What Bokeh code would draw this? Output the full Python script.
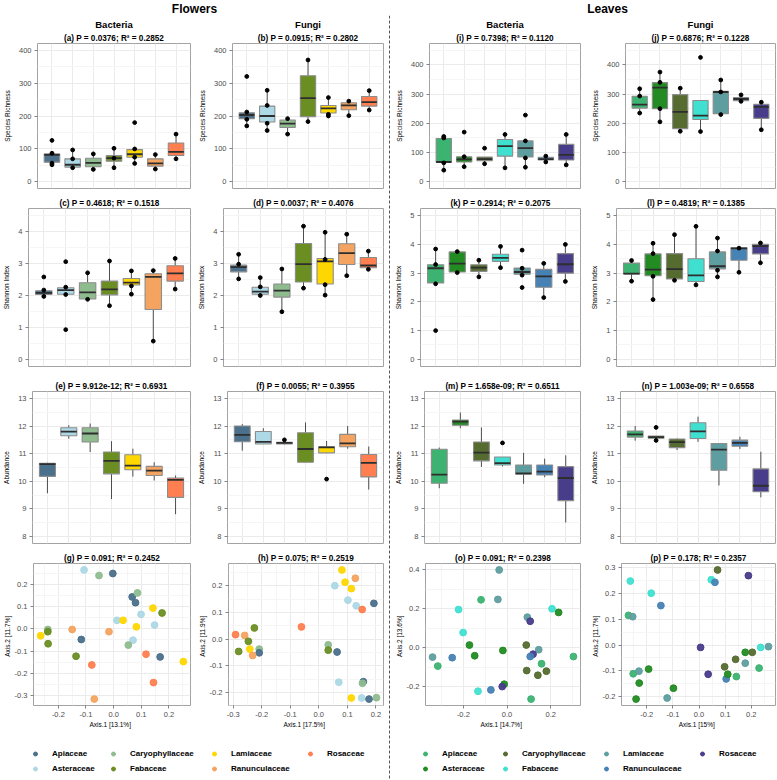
import numpy as np
from bokeh.plotting import figure
from bokeh.models import (FactorRange, Range1d, FixedTicker, Title, Span, Label,
                          Legend, LegendItem, ColumnDataSource, PrintfTickFormatter)
from bokeh.layouts import row, column
from bokeh.transform import dodge, factor_cmap
from bokeh.embed import file_html
from bokeh.resources import INLINE

FONT = "Liberation Sans"

FAMS = ["Apiaceae", "Asteraceae", "Caryophyllaceae", "Fabaceae",
        "Lamiaceae", "Ranunculaceae", "Rosaceae"]
FL_COLORS = ["#4A708B", "#ADD8E6", "#8FBC8F", "#6B8E23", "#FFD700", "#F4A460", "#FF7F50"]
LV_COLORS = ["#3CB371", "#228B22", "#556B2F", "#40E0D0", "#5F9EA0", "#4682B4", "#483D8B"]

# ---- axis limits / ticks
RICH_FL_LIM = (-20, 420)
RICH_LV_LIM = (-22.5, 472.5)
RICH_TICKS = [0, 100, 200, 300, 400]
SH_FL_LIM = (-0.225, 4.725)
SH_FL_TICKS = [0, 1, 2, 3, 4]
SH_LV_LIM = (-0.25, 5.25)
SH_LV_TICKS = [0, 1, 2, 3, 4, 5]
AB_LIM = (7.75, 13.25)
AB_TICKS = [8, 9, 10, 11, 12, 13]

# ---- box stats per family: [lower whisker, Q1, median, Q3, upper whisker]
a_box = [[52, 60, 82, 85, 87], [43, 45, 52, 70, 97], [38, 46, 58, 72, 85], [43, 63, 72, 80, 102],
         [56, 75, 84, 98, 100], [39, 48, 56, 70, 83], [70, 80, 91, 118, 145]]
a_pts = [[126, 87, 57, 52], [97, 70, 43], [85, 38], [102, 72, 43], [180, 100, 75, 56], [83, 39], [145, 70]]
b_box = [[170, 192, 203, 210, 212], [156, 182, 200, 230, 278], [145, 165, 177, 188, 192], [183, 198, 254, 322, 370],
         [200, 209, 223, 232, 256], [201, 219, 232, 240, 245], [218, 230, 242, 259, 277]]
b_pts = [[320, 212, 190, 170], [278, 232, 178, 156], [192, 145], [370, 183], [256, 205, 200], [245, 201], [277, 218]]
i_box = [[40, 67, 68, 148, 155], [52, 68, 77, 86, 86], [62, 72, 78, 85, 85], [48, 88, 122, 145, 162],
         [50, 85, 115, 140, 140], [68, 75, 78, 84, 88], [58, 75, 92, 128, 162]]
i_pts = [[155, 150, 65, 40], [170, 86, 52], [115, 62], [162, 48], [228, 140, 82, 50], [88, 68], [162, 58]]
j_box = [[235, 252, 264, 292, 318], [205, 250, 322, 339, 375], [173, 182, 239, 298, 320], [172, 213, 226, 278, 278],
         [230, 233, 307, 309, 348], [275, 277, 283, 288, 297], [178, 217, 256, 265, 272]]
j_pts = [[318, 293, 235], [375, 340, 250, 205], [320, 173], [425, 172], [348, 307, 230], [297, 275], [272, 178]]

c_box = [[1.97, 2.03, 2.08, 2.15, 2.17], [2.03, 2.04, 2.17, 2.24, 2.26], [1.88, 1.89, 2.10, 2.40, 2.71],
         [1.68, 2.02, 2.19, 2.45, 3.08], [2.04, 2.33, 2.40, 2.53, 2.77], [0.57, 1.56, 2.58, 2.68, 2.78],
         [2.20, 2.45, 2.69, 2.93, 3.16]]
c_pts = [[2.58, 2.17, 1.97], [3.06, 2.26, 2.03, 0.93], [2.71, 1.88], [3.08, 1.68], [2.77, 2.30, 2.04], [2.78, 0.57], [3.16, 2.20]]
d_box = [[2.52, 2.74, 2.89, 2.95, 3.29], [2.00, 2.04, 2.12, 2.26, 2.56], [1.49, 1.95, 2.15, 2.36, 2.83],
         [2.23, 2.42, 2.98, 3.63, 4.17], [2.01, 2.36, 3.07, 3.16, 3.98], [2.62, 2.97, 3.33, 3.62, 3.92],
         [2.82, 2.87, 2.94, 3.19, 3.39]]
d_pts = [[3.29, 2.98, 2.52], [2.56, 2.27, 2.00], [2.83, 1.49], [4.17, 2.23], [3.98, 3.13, 2.34, 2.01], [3.92, 2.62], [3.39, 2.82]]
k_box = [[2.63, 2.66, 3.17, 3.29, 3.84], [3.02, 3.04, 3.33, 3.74, 3.75], [2.87, 3.06, 3.19, 3.29, 3.45],
         [3.19, 3.41, 3.53, 3.66, 3.93], [2.93, 2.96, 3.04, 3.18, 3.18], [2.15, 2.51, 2.89, 3.13, 3.34],
         [2.71, 3.00, 3.31, 3.68, 4.00]]
k_pts = [[3.84, 3.30, 2.63, 1.00], [3.75, 3.02], [3.45, 2.87], [3.93, 3.19], [3.80, 3.17, 2.93, 2.50], [3.34, 2.15], [4.00, 2.71]]
l_box = [[2.72, 2.97, 2.98, 3.35, 3.44], [2.08, 2.91, 3.12, 3.67, 4.04], [2.75, 2.80, 3.14, 3.68, 4.34],
         [2.59, 2.71, 2.92, 3.50, 4.63], [2.87, 3.15, 3.24, 3.74, 4.22], [3.03, 3.45, 3.86, 3.88, 3.88],
         [3.36, 3.67, 3.94, 4.00, 4.05]]
l_pts = [[3.44, 2.72], [4.04, 3.68, 2.89, 2.08], [4.34, 2.75], [4.63, 2.59], [4.22, 3.77, 3.10, 2.87], [3.87, 3.03], [4.05, 3.36]]

e_box = [[9.57, 10.18, 10.62, 10.65, 10.67], [11.54, 11.65, 11.80, 11.94, 12.03], [11.06, 11.42, 11.73, 11.94, 12.09],
         [9.36, 10.27, 10.74, 11.06, 11.45], [10.17, 10.42, 10.57, 10.96, 11.18], [10.03, 10.21, 10.39, 10.54, 10.69],
         [8.81, 9.42, 10.05, 10.12, 10.21]]
e_pts = [[], [], [], [], [], [], []]
f_box = [[11.11, 11.43, 11.68, 12.00, 12.07], [11.35, 11.35, 11.43, 11.80, 11.92], [11.34, 11.35, 11.39, 11.41, 11.42],
         [10.69, 10.69, 11.17, 11.76, 12.13], [11.03, 11.03, 11.23, 11.25, 11.46], [11.18, 11.25, 11.37, 11.70, 12.00],
         [9.70, 10.16, 10.67, 10.97, 11.26]]
f_pts = [[], [], [11.50], [], [10.08], [], []]
m_box = [[9.75, 9.93, 10.24, 11.16, 11.22], [11.92, 12.03, 12.16, 12.22, 12.49], [10.52, 10.74, 11.04, 11.42, 11.95],
         [10.54, 10.59, 10.66, 10.88, 10.88], [9.91, 10.26, 10.29, 10.59, 11.03], [10.15, 10.23, 10.35, 10.59, 10.82],
         [8.51, 9.30, 10.12, 10.53, 10.94]]
m_pts = [[], [], [], [11.39], [], [], []]
n_box = [[11.47, 11.60, 11.70, 11.82, 12.00], [11.56, 11.56, 11.60, 11.64, 11.64], [11.13, 11.22, 11.42, 11.53, 11.55],
         [11.43, 11.55, 11.81, 12.12, 12.34], [9.85, 10.40, 11.15, 11.37, 11.37], [11.17, 11.27, 11.39, 11.49, 11.61],
         [9.42, 9.62, 9.84, 10.45, 11.07]]
n_pts = [[], [11.95, 11.48], [], [], [], [], []]

# ---- PCoA coordinates
g_fam = ["Asteraceae", "Caryophyllaceae", "Apiaceae", "Apiaceae", "Caryophyllaceae", "Apiaceae", "Lamiaceae",
         "Fabaceae", "Asteraceae", "Asteraceae", "Lamiaceae", "Lamiaceae", "Asteraceae", "Caryophyllaceae",
         "Fabaceae", "Lamiaceae", "Ranunculaceae", "Ranunculaceae", "Apiaceae", "Fabaceae", "Asteraceae",
         "Caryophyllaceae", "Rosaceae", "Apiaceae", "Fabaceae", "Rosaceae", "Lamiaceae", "Rosaceae", "Ranunculaceae"]
g_x = [-0.107, -0.053, -0.003, 0.067, 0.086, 0.079, 0.142, 0.175, 0.099, 0.012, 0.034, 0.082, 0.148, -0.238,
       -0.238, -0.264, -0.150, -0.017, -0.117, -0.237, 0.070, 0.053, 0.117, 0.168, -0.136, -0.079, 0.252, 0.144, -0.070]
g_y = [0.264, 0.239, 0.248, 0.143, 0.161, 0.117, 0.093, 0.071, 0.065, 0.038, 0.038, 0.009, 0.017, -0.003,
       -0.013, -0.031, -0.003, -0.013, -0.048, -0.067, -0.051, -0.073, -0.114, -0.126, -0.123, -0.162, -0.147, -0.241, -0.315]

h_fam = ["Lamiaceae", "Ranunculaceae", "Lamiaceae", "Asteraceae", "Lamiaceae", "Asteraceae", "Asteraceae",
         "Rosaceae", "Apiaceae", "Rosaceae", "Rosaceae", "Ranunculaceae", "Fabaceae", "Fabaceae", "Fabaceae",
         "Lamiaceae", "Caryophyllaceae", "Apiaceae", "Ranunculaceae", "Caryophyllaceae", "Fabaceae", "Apiaceae",
         "Asteraceae", "Apiaceae", "Caryophyllaceae", "Lamiaceae", "Asteraceae", "Apiaceae", "Caryophyllaceae"]
h_x = [0.081, 0.128, 0.092, 0.056, 0.114, 0.102, 0.131, 0.152, 0.193, -0.061, -0.292, -0.260, -0.226, -0.247,
       -0.281, -0.242, -0.209, -0.209, -0.232, 0.033, 0.033, 0.064, 0.070, 0.156, 0.153, 0.114, 0.150, 0.176, 0.202]
h_y = [0.259, 0.228, 0.213, 0.200, 0.189, 0.146, 0.125, 0.111, 0.134, 0.046, 0.017, 0.014, 0.042, -0.008,
       -0.046, -0.037, -0.037, -0.051, -0.061, -0.021, -0.041, -0.048, -0.161, -0.159, -0.165, -0.220, -0.220, -0.224, -0.219]

o_fam = ["Lamiaceae", "Lamiaceae", "Apiaceae", "Fabaceae", "Fabaceae", "Asteraceae", "Lamiaceae", "Rosaceae",
         "Fabaceae", "Asteraceae", "Caryophyllaceae", "Asteraceae", "Asteraceae", "Lamiaceae", "Rosaceae",
         "Ranunculaceae", "Lamiaceae", "Apiaceae", "Ranunculaceae", "Apiaceae", "Apiaceae", "Caryophyllaceae",
         "Caryophyllaceae", "Caryophyllaceae", "Asteraceae", "Rosaceae", "Ranunculaceae", "Fabaceae", "Apiaceae"]
o_x = [-0.036, -0.042, -0.119, -0.222, 0.206, 0.236, 0.093, 0.106, -0.201, -0.172, 0.088, -0.148, -0.019, 0.145,
       0.119, 0.106, -0.341, -0.317, -0.251, 0.158, 0.304, 0.090, 0.141, 0.180, -0.013, -0.022, -0.074, -0.133, 0.110]
o_y = [0.400, 0.249, 0.247, 0.197, 0.201, 0.182, 0.158, 0.137, 0.079, 0.015, 0.015, -0.040, -0.013, -0.009,
       -0.032, -0.044, -0.047, -0.093, -0.050, -0.081, -0.044, -0.116, -0.140, -0.119, -0.186, -0.198, -0.215, -0.222, -0.262]

p_fam = ["Caryophyllaceae", "Rosaceae", "Fabaceae", "Ranunculaceae", "Fabaceae", "Fabaceae", "Ranunculaceae",
         "Apiaceae", "Lamiaceae", "Rosaceae", "Fabaceae", "Lamiaceae", "Asteraceae", "Caryophyllaceae",
         "Caryophyllaceae", "Caryophyllaceae", "Lamiaceae", "Apiaceae", "Rosaceae", "Ranunculaceae", "Asteraceae",
         "Apiaceae", "Asteraceae", "Apiaceae", "Lamiaceae", "Asteraceae", "Asteraceae", "Asteraceae", "Lamiaceae"]
p_x = [0.071, 0.189, 0.047, 0.061, -0.263, -0.183, -0.146, -0.270, -0.254, 0.006, 0.236, 0.266, 0.177, 0.204,
       0.140, 0.098, 0.177, 0.230, 0.035, 0.104, 0.110, 0.143, -0.193, -0.252, -0.230, -0.229, -0.098, -0.241, -0.122]
p_y = [0.291, 0.269, 0.253, 0.243, 0.248, 0.201, 0.153, 0.115, 0.110, -0.009, -0.009, -0.006, -0.028, -0.028,
       -0.055, -0.084, -0.070, -0.089, -0.113, -0.131, -0.113, -0.122, -0.093, -0.111, -0.101, -0.147, -0.167, -0.209, -0.205]

G_XT = [-0.2, -0.1, 0.0, 0.1, 0.2]
G_YT = [-0.3, -0.2, -0.1, 0.0, 0.1, 0.2]
H_XT = [-0.3, -0.2, -0.1, 0.0, 0.1, 0.2]
H_YT = [-0.2, -0.1, 0.0, 0.1, 0.2]
O_XT = [-0.2, 0.0, 0.2]
O_YT = [-0.2, 0.0, 0.2, 0.4]
P_XT = [-0.2, -0.1, 0.0, 0.1, 0.2]
P_YT = [-0.2, -0.1, 0.0, 0.1, 0.2, 0.3]

GRID = "#EBEBEB"
MINOR = "#F5F5F5"

# ---- layout sizes (px)
WA, WB, WSEP, WI, WJ = 195, 191, 6, 196, 188
H_HEAD, H1, H2, H3, H4, H_LEG = 15, 180, 179, 176, 180, 49


def minor_of(ticks):
    step = ticks[1] - ticks[0]
    return [ticks[0] - step / 2] + [t + step / 2 for t in ticks]


def style_title(t, size, standoff):
    t.text_font = FONT
    t.text_font_size = size
    t.text_font_style = "bold"
    t.text_color = "black"
    t.align = "center"
    t.standoff = standoff


def style_axis(ax, label, lab_standoff):
    ax.axis_label = label
    ax.axis_label_text_font = FONT
    ax.axis_label_text_font_size = "6.5px"
    ax.axis_label_text_font_style = "normal"
    ax.axis_label_text_color = "black"
    ax.axis_label_standoff = lab_standoff
    ax.major_label_text_font = FONT
    ax.major_label_text_font_size = "7.5px"
    ax.major_label_text_color = "#4D4D4D"
    ax.major_label_standoff = 2
    ax.major_tick_in = 0
    ax.major_tick_out = 3
    ax.major_tick_line_color = "#333333"
    ax.major_tick_line_width = 0.6
    ax.minor_tick_line_color = None
    ax.axis_line_color = None


def base_fig(width, height, xr, yr, title, header, top, bottom, right):
    p = figure(width=width, height=height, x_range=xr, y_range=yr,
               title=header if header else title, tools="", toolbar_location=None,
               output_backend="svg", min_border_left=0, min_border_right=right,
               min_border_top=top, min_border_bottom=bottom)
    if header:
        style_title(p.title, "9.5px", 3)
        t2 = Title(text=title)
        style_title(t2, "8.2px", 1)
        p.add_layout(t2, "above")
    else:
        style_title(p.title, "8.2px", 1)
    p.outline_line_color = "#A3A3A3"
    p.outline_line_width = 1
    p.xgrid.grid_line_color = GRID
    p.ygrid.grid_line_color = GRID
    p.ygrid.minor_grid_line_color = MINOR
    return p


def box_panel(width, height, box, pts, colors, title, ylab, lim, ticks,
              header=None, top=13, bottom=8, right=3):
    xr = FactorRange(factors=FAMS, range_padding=0.2, range_padding_units="absolute")
    p = base_fig(width, height, xr, Range1d(*lim), title, header, top, bottom, right)
    p.xaxis.visible = False
    p.yaxis.ticker = FixedTicker(ticks=ticks, minor_ticks=minor_of(ticks))
    style_axis(p.yaxis[0], ylab, 5)
    src = ColumnDataSource(dict(fam=FAMS, lo=[b[0] for b in box], q1=[b[1] for b in box],
                                med=[b[2] for b in box], q3=[b[3] for b in box],
                                hi=[b[4] for b in box], color=colors))
    p.segment(x0="fam", y0="lo", x1="fam", y1="q1", source=src, line_color="#4D4D4D", line_width=1)
    p.segment(x0="fam", y0="q3", x1="fam", y1="hi", source=src, line_color="#4D4D4D", line_width=1)
    p.vbar(x="fam", bottom="q1", top="q3", width=0.75, source=src, fill_color="color",
           line_color="#8C8C8C", line_width=1.1)
    p.segment(x0=dodge("fam", -0.375, range=xr), x1=dodge("fam", 0.375, range=xr),
              y0="med", y1="med", source=src, line_color="#2E2E2E", line_width=1.8)
    px = [f for f, vals in zip(FAMS, pts) for v in vals]
    py = [v for vals in pts for v in vals]
    if px:
        p.scatter(px, py, size=3.8, color="black")
    return p


def pad(vals):
    lo, hi = min(vals), max(vals)
    s = hi - lo
    return (lo - 0.05 * s, hi + 0.05 * s)


def pcoa_panel(width, height, fam, xs, ys, colors, title, xlab, ylab, xt, yt, right):
    p = base_fig(width, height, Range1d(*pad(xs)), Range1d(*pad(ys)), title, None, 13, 0, right)
    p.xgrid.minor_grid_line_color = MINOR
    p.xaxis.ticker = FixedTicker(ticks=xt, minor_ticks=minor_of(xt))
    p.yaxis.ticker = FixedTicker(ticks=yt, minor_ticks=minor_of(yt))
    p.xaxis.formatter = PrintfTickFormatter(format="%.1f")
    p.yaxis.formatter = PrintfTickFormatter(format="%.1f")
    style_axis(p.xaxis[0], xlab, 1)
    style_axis(p.yaxis[0], ylab, 1)
    src = ColumnDataSource(dict(x=xs, y=ys, fam=fam))
    cmap = factor_cmap("fam", colors, FAMS)
    p.scatter("x", "y", source=src, size=6.8, fill_color=cmap, line_color=cmap, fill_alpha=0.95)
    return p


def legend_fig(width, colors, xs):
    p = figure(width=width, height=H_LEG, x_range=Range1d(0, 1), y_range=Range1d(0, 1),
               tools="", toolbar_location=None, output_backend="svg", min_border=0,
               x_axis_location=None, y_axis_location=None)
    p.grid.visible = False
    p.outline_line_color = None
    nan = np.array([np.nan])
    rends = [p.scatter(x=nan, y=nan, size=7, color=c) for c in colors]
    groups = [(0, 1), (2, 3), (4, 5), (6,)]
    for grp, x0 in zip(groups, xs):
        items = [LegendItem(label=FAMS[k], renderers=[rends[k]]) for k in grp]
        y0 = 5 if len(grp) == 2 else 20
        leg = Legend(items=items, location=(x0, y0), orientation="vertical", spacing=4,
                     padding=0, margin=0, glyph_width=10, glyph_height=11, label_height=11,
                     label_standoff=12, label_text_font=FONT, label_text_font_size="8px",
                     label_text_font_style="bold", label_text_color="black",
                     border_line_color=None, background_fill_alpha=0)
        p.add_layout(leg)
    return p


# ---- panels
a = box_panel(WA, H1, a_box, a_pts, FL_COLORS, "(a) P = 0.0376; R² = 0.2852", "Species Richness",
              RICH_FL_LIM, RICH_TICKS, header="Bacteria", top=28, bottom=7, right=5)
b = box_panel(WB, H1, b_box, b_pts, FL_COLORS, "(b) P = 0.0915; R² = 0.2802", "Species Richness",
              RICH_FL_LIM, RICH_TICKS, header="Fungi", top=28, bottom=7, right=3)
pi = box_panel(WI, H1, i_box, i_pts, LV_COLORS, "(i) P = 0.7398; R² = 0.1120", "Species Richness",
               RICH_LV_LIM, RICH_TICKS, header="Bacteria", top=28, bottom=7, right=8)
pj = box_panel(WJ, H1, j_box, j_pts, LV_COLORS, "(j) P = 0.6876; R² = 0.1228", "Species Richness",
               RICH_LV_LIM, RICH_TICKS, header="Fungi", top=28, bottom=7, right=1)

c = box_panel(WA, H2, c_box, c_pts, FL_COLORS, "(c) P = 0.4618; R² = 0.1518", "Shannon Index",
              SH_FL_LIM, SH_FL_TICKS, top=13, bottom=8, right=5)
d = box_panel(WB, H2, d_box, d_pts, FL_COLORS, "(d) P = 0.0037; R² = 0.4076", "Shannon Index",
              SH_FL_LIM, SH_FL_TICKS, top=13, bottom=8, right=3)
pk = box_panel(WI, H2, k_box, k_pts, LV_COLORS, "(k) P = 0.2914; R² = 0.2075", "Shannon Index",
               SH_LV_LIM, SH_LV_TICKS, top=13, bottom=8, right=8)
pl = box_panel(WJ, H2, l_box, l_pts, LV_COLORS, "(l) P = 0.4819; R² = 0.1385", "Shannon Index",
               SH_LV_LIM, SH_LV_TICKS, top=13, bottom=8, right=1)

e = box_panel(WA, H3, e_box, e_pts, FL_COLORS, "(e) P = 9.912e-12; R² = 0.6931", "Abundance",
              AB_LIM, AB_TICKS, top=17, bottom=7, right=5)
f = box_panel(WB, H3, f_box, f_pts, FL_COLORS, "(f) P = 0.0055; R² = 0.3955", "Abundance",
              AB_LIM, AB_TICKS, top=17, bottom=7, right=3)
pm = box_panel(WI, H3, m_box, m_pts, LV_COLORS, "(m) P = 1.658e-09; R² = 0.6511", "Abundance",
               AB_LIM, AB_TICKS, top=17, bottom=7, right=8)
pn = box_panel(WJ, H3, n_box, n_pts, LV_COLORS, "(n) P = 1.003e-09; R² = 0.6558", "Abundance",
               AB_LIM, AB_TICKS, top=17, bottom=7, right=1)

g = pcoa_panel(WA, H4, g_fam, g_x, g_y, FL_COLORS, "(g) P = 0.091; R² = 0.2452",
               "Axis.1   [13.1%]", "Axis.2   [11.7%]", G_XT, G_YT, 5)
h = pcoa_panel(WB, H4, h_fam, h_x, h_y, FL_COLORS, "(h) P = 0.075; R² = 0.2519",
               "Axis.1   [17.5%]", "Axis.2   [11.9%]", H_XT, H_YT, 3)
po = pcoa_panel(WI, H4, o_fam, o_x, o_y, LV_COLORS, "(o) P = 0.091; R² = 0.2398",
                "Axis.1   [14.7%]", "Axis.2   [13.6%]", O_XT, O_YT, 8)
pp = pcoa_panel(WJ, H4, p_fam, p_x, p_y, LV_COLORS, "(p) P = 0.178; R² = 0.2357",
                "Axis.1   [15%]", "Axis.2   [11.7%]", P_XT, P_YT, 1)

leg_l = legend_fig(WA + WB, FL_COLORS, [30, 108, 209, 305])
leg_r = legend_fig(WI + WJ, LV_COLORS, [28, 108, 209, 305])

# ---- separator
H_BODY = H1 + H2 + H3 + H4 + H_LEG
sep = figure(width=WSEP, height=H_BODY, x_range=Range1d(0, 1), y_range=Range1d(0, 1), tools="",
             toolbar_location=None, output_backend="svg", min_border=0,
             x_axis_location=None, y_axis_location=None)
sep.grid.visible = False
sep.outline_line_color = None
sep.add_layout(Span(location=0.5, dimension="height", line_color="#555555",
                    line_dash="3 2", line_width=1))

# ---- header
W_ALL = WA + WB + WSEP + WI + WJ
head = figure(width=W_ALL, height=H_HEAD, x_range=Range1d(0, W_ALL), y_range=Range1d(0, H_HEAD),
              tools="", toolbar_location=None, output_backend="svg", min_border=0,
              x_axis_location=None, y_axis_location=None)
head.grid.visible = False
head.outline_line_color = None
for txt, xx in (("Flowers", 194), ("Leaves", 607)):
    head.add_layout(Label(x=xx, y=7, text=txt, text_align="center", text_baseline="middle",
                          text_font=FONT, text_font_size="12px", text_font_style="bold",
                          text_color="black"))

left_col = column(row(a, b), row(c, d), row(e, f), row(g, h), leg_l)
right_col = column(row(pi, pj), row(pk, pl), row(pm, pn), row(po, pp), leg_r)
layout = column(head, row(left_col, sep, right_col))

open("out.html", "w").write(file_html(layout, INLINE))
